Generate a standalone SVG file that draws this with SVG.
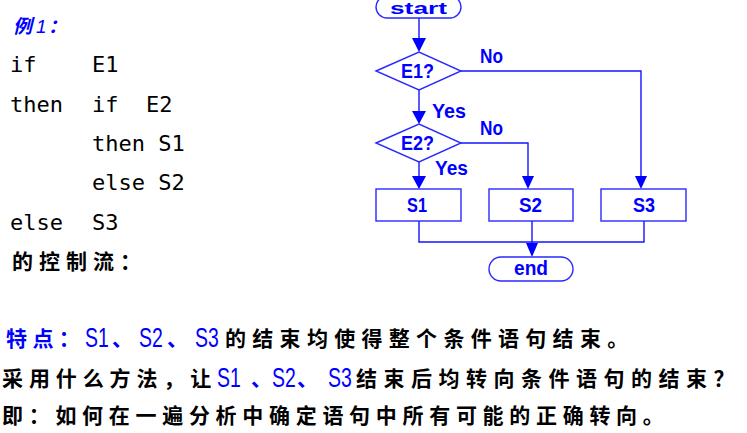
<svg xmlns="http://www.w3.org/2000/svg" width="747" height="433" viewBox="0 0 747 433">
<style>
.code{font-family:"DejaVu Sans Mono","Liberation Mono",monospace;font-size:22px;fill:#000}
.cjk{font-family:"Noto Sans CJK SC","Noto Sans CJK JP",sans-serif;font-size:21px;font-weight:bold;fill:#000;letter-spacing:5.7px}
.dun{letter-spacing:0}
.blue{fill:#0000ff}
.lat{font-family:"Liberation Sans",Arial,sans-serif;font-size:27px;fill:#0000ff}
.fl{font-family:"Liberation Sans",Arial,sans-serif;font-size:20px;font-weight:bold;fill:#0000ff}
.shape{fill:#fff;stroke:#2a2aff;stroke-width:1.4}
.line{fill:none;stroke:#1414ff;stroke-width:1.4}
.head{fill:#0000ff;stroke:none}
</style>
<rect x="0" y="0" width="747" height="433" fill="#fff"/>

<g id="code">
  <text x="13" y="33" class="cjk blue" style="font-size:19px;font-style:italic;letter-spacing:0">例</text>
  <text x="36" y="33" style="font-family:'Liberation Sans',sans-serif;font-size:19px;font-style:italic;fill:#0000ff">1</text>
  <text x="48" y="33" class="cjk blue" style="font-size:19px;font-style:italic;letter-spacing:0">：</text>
  <text x="10" y="72" class="code">if</text>
  <text x="92" y="72" class="code">E1</text>
  <text x="10" y="112" class="code">then</text>
  <text x="92" y="112" class="code">if</text>
  <text x="146" y="112" class="code">E2</text>
  <text x="92" y="151" class="code">then S1</text>
  <text x="92" y="190" class="code">else S2</text>
  <text x="10" y="230" class="code">else</text>
  <text x="92" y="230" class="code">S3</text>
  <text x="12" y="269" class="cjk" style="letter-spacing:6px">的控制流：</text>
</g>

<g id="connectors">
  <line class="line" x1="419" y1="18" x2="419" y2="39"/>
  <polygon class="head" points="412,38 426,38 419,52"/>
  <line class="line" x1="419" y1="90" x2="419" y2="112"/>
  <polygon class="head" points="412,111 426,111 419,124"/>
  <line class="line" x1="419" y1="162" x2="419" y2="177"/>
  <polygon class="head" points="412,176 426,176 419,189"/>
  <polyline class="line" points="461,143 528,143 528,177"/>
  <polygon class="head" points="522,176 534,176 528,189"/>
  <polyline class="line" points="461,71 641,71 641,177"/>
  <polygon class="head" points="635,176 647,176 641,189"/>
  <polyline class="line" points="419,221 419,242 644,242 644,221"/>
  <line class="line" x1="532" y1="221" x2="532" y2="244"/>
  <polygon class="head" points="526,243 538,243 532,257"/>
  <text x="480" y="63" class="fl" textLength="23" lengthAdjust="spacingAndGlyphs">No</text>
  <text x="432" y="118" class="fl" textLength="34" lengthAdjust="spacingAndGlyphs">Yes</text>
  <text x="480" y="135" class="fl" textLength="23" lengthAdjust="spacingAndGlyphs">No</text>
  <text x="435" y="175" class="fl" textLength="33" lengthAdjust="spacingAndGlyphs">Yes</text>
</g>

<g id="start">
  <rect class="shape" x="376" y="-4" width="85" height="22" rx="11"/>
  <text x="390" y="14" class="fl" style="font-size:17px" textLength="57" lengthAdjust="spacingAndGlyphs">start</text>
</g>
<g id="E1">
  <polygon class="shape" points="376,71 419,52 461,71 419,90"/>
  <text x="401" y="78" class="fl" textLength="33" lengthAdjust="spacingAndGlyphs">E1?</text>
</g>
<g id="E2">
  <polygon class="shape" points="376,143 419,124 461,143 419,162"/>
  <text x="401" y="150" class="fl" textLength="33" lengthAdjust="spacingAndGlyphs">E2?</text>
</g>
<g id="S1">
  <rect class="shape" x="376" y="189" width="85" height="32"/>
  <text x="407" y="212" class="fl" textLength="20" lengthAdjust="spacingAndGlyphs">S1</text>
</g>
<g id="S2">
  <rect class="shape" x="489" y="189" width="84" height="32"/>
  <text x="519" y="212" class="fl" textLength="23" lengthAdjust="spacingAndGlyphs">S2</text>
</g>
<g id="S3">
  <rect class="shape" x="601" y="189" width="85" height="32"/>
  <text x="633" y="212" class="fl" textLength="22" lengthAdjust="spacingAndGlyphs">S3</text>
</g>
<g id="end">
  <rect class="shape" x="489" y="257" width="84" height="24" rx="12"/>
  <text x="514" y="275" class="fl" textLength="34" lengthAdjust="spacingAndGlyphs">end</text>
</g>

<g id="notes">
  <text x="6" y="346" class="cjk blue" style="letter-spacing:5.4px">特点：</text>
  <text transform="translate(85,347) scale(0.72,1)" class="lat">S1</text>
  <text x="112" y="346" class="cjk blue dun">、</text>
  <text transform="translate(139,347) scale(0.72,1)" class="lat">S2</text>
  <text x="167" y="346" class="cjk blue dun">、</text>
  <text transform="translate(195,347) scale(0.72,1)" class="lat">S3</text>
  <text x="225" y="346" class="cjk" style="letter-spacing:6.3px">的结束均使得整个条件语句结束。</text>

  <text x="2" y="386" class="cjk" style="letter-spacing:5.9px">采用什么方法，让</text>
  <text transform="translate(217,387) scale(0.72,1)" class="lat">S1</text>
  <text x="251" y="386" class="cjk blue dun">、</text>
  <text transform="translate(272,387) scale(0.72,1)" class="lat">S2</text>
  <text x="297" y="386" class="cjk blue dun">、</text>
  <text transform="translate(328,387) scale(0.72,1)" class="lat">S3</text>
  <text x="356" y="386" class="cjk" style="letter-spacing:6.5px">结束后均转向条件语句的结束？</text>

  <text x="2" y="423" class="cjk">即：如何在一遍分析中确定语句中所有可能的正确转向。</text>
</g>
</svg>
